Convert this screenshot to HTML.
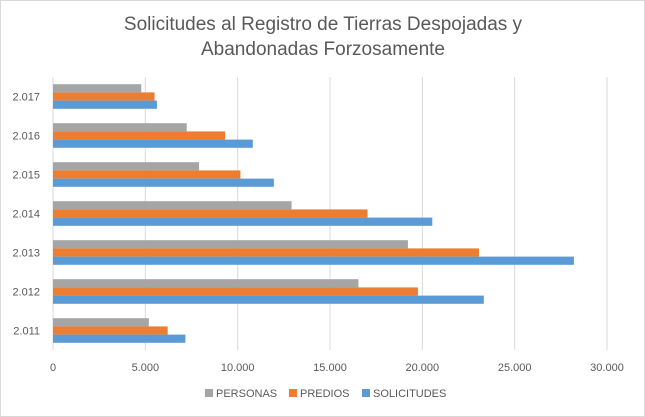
<!DOCTYPE html>
<html><head><meta charset="utf-8"><style>
body{margin:0;background:#fff;width:645px;height:417px;overflow:hidden;font-family:"Liberation Sans",sans-serif}
svg{display:block}
</style></head><body>
<svg id="c" width="645" height="417">
<rect x="0.5" y="0.5" width="644" height="416" fill="#fff" stroke="#d9d9d9"/>
<text x="323" y="30" text-anchor="middle" font-size="19" fill="#595959">Solicitudes al Registro de Tierras Despojadas y</text>
<text x="323" y="55" text-anchor="middle" font-size="19" fill="#595959">Abandonadas Forzosamente</text>
<g id="grid"></g><g id="bars"></g><g id="labels"></g>
<g>
<rect x="205" y="389" width="8" height="8" fill="#a5a5a5"/>
<text x="216" y="397" font-size="11" fill="#595959">PERSONAS</text>
<rect x="289" y="389" width="8" height="8" fill="#ed7d31"/>
<text x="300" y="397" font-size="11" fill="#595959">PREDIOS</text>
<rect x="362" y="389" width="8" height="8" fill="#5b9bd5"/>
<text x="373" y="397" font-size="11" fill="#595959">SOLICITUDES</text>
</g>
</svg>
<script>
const categories=["2.011","2.012","2.013","2.014","2.015","2.016","2.017"];
const personas=[5190,16540,19220,12920,7910,7240,4780];
const predios=[6210,19760,23070,17030,10150,9320,5500];
const solicitudes=[7170,23330,28210,20540,11960,10820,5630];
const ticks=[0,5000,10000,15000,20000,25000,30000];
const tickLabels=["0","5.000","10.000","15.000","20.000","25.000","30.000"];
const NS="http://www.w3.org/2000/svg";
const x0=53,x1=607,yTop=77,yBot=350,vmax=30000;
const xs=v=>x0+(v/vmax)*(x1-x0);
const band=(yBot-yTop)/categories.length;
const yc=i=>yBot-band*(i+0.5);
function mk(t,a,p){const e=document.createElementNS(NS,t);for(const k in a)e.setAttribute(k,a[k]);p.appendChild(e);return e;}
const grid=document.getElementById('grid'),bars=document.getElementById('bars'),labels=document.getElementById('labels');
ticks.forEach((t,i)=>{
 const l=mk('line',{x1:xs(t),x2:xs(t),y1:yTop,y2:yBot,stroke:'#d9d9d9'},grid);
 
 
 const tx=mk('text',{x:xs(t),y:371,'text-anchor':'middle','font-size':11,fill:'#595959'},labels);
 tx.textContent=tickLabels[i];
 
 
});
const series=[[personas,'#a5a5a5','personas'],[predios,'#ed7d31','predios'],[solicitudes,'#5b9bd5','solicitudes']];
const bh=8.2;
categories.forEach((c,i)=>{
 const yc0=yc(i);
 series.forEach((s,j)=>{
  const y=yc0-1.5*bh+j*bh;
  const r=mk('rect',{x:xs(0),y:y,width:xs(s[0][i])-xs(0),height:bh,fill:s[1]},bars);
  
  
 });
 const t=mk('text',{x:40,y:yc0+4,'text-anchor':'end','font-size':11,fill:'#595959'},labels);
 t.textContent=c;
 
 
});
</script>
</body></html>
